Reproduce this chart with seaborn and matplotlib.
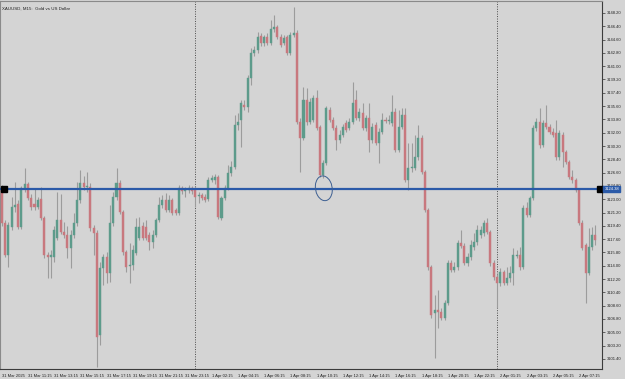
import numpy as np
import pandas as pd
import matplotlib
matplotlib.use("Agg")
import matplotlib.pyplot as plt
from matplotlib.patches import Ellipse
import seaborn as sns

# ---------------- data (XAUUSD, M15) ----------------
x_labels = ["31 Mar 2025", "31 Mar 11:15", "31 Mar 13:15", "31 Mar 15:15", "31 Mar 17:15",
            "31 Mar 19:15", "31 Mar 21:15", "31 Mar 23:15", "1 Apr 02:15", "1 Apr 04:15",
            "1 Apr 06:15", "1 Apr 08:15", "1 Apr 10:15", "1 Apr 12:15", "1 Apr 14:15",
            "1 Apr 16:15", "1 Apr 18:15", "1 Apr 20:15", "1 Apr 22:15", "2 Apr 01:15",
            "2 Apr 03:15", "2 Apr 05:15", "2 Apr 07:15"]
x_label_bars = [0, 8, 16, 24, 32, 40, 48, 56, 64, 72, 80, 88, 96, 104, 112, 120, 128,
                136, 144, 152, 160, 168, 176]
day_separators = [58.9, 150.9]

y_ticks = [3101.40, 3103.20, 3105.00, 3106.80, 3108.60, 3110.40, 3112.20, 3114.00, 3115.80,
           3117.60, 3119.40, 3121.20, 3123.00, 3124.80, 3126.60, 3128.40, 3130.20, 3132.00,
           3133.80, 3135.60, 3137.40, 3139.20, 3141.00, 3142.80, 3144.60, 3146.40, 3148.20]

level_price = 3124.38
title = "XAUUSD, M15:  Gold vs US Dollar"

open_ = [
    3124.25, 3119.79, 3115.46, 3119.25, 3121.95, 3122.36, 3119.25, 3124.52, 3125.06, 3123.17,
    3122.36, 3121.95, 3123.04, 3120.46, 3115.46, 3115.19, 3115.19, 3117.76, 3120.19, 3118.57,
    3118.16, 3116.41, 3118.16, 3119.79, 3122.90, 3125.20, 3124.66, 3124.66, 3119.11, 3118.44,
    3104.63, 3113.70, 3115.19, 3113.02, 3119.79, 3123.31, 3125.20, 3121.28, 3115.86, 3113.97,
    3114.11, 3115.73, 3117.76, 3119.38, 3119.25, 3118.16, 3117.22, 3118.16, 3120.19, 3122.22,
    3122.90, 3121.55, 3122.90, 3121.55, 3121.14, 3124.52, 3124.12, 3124.25, 3124.52, 3124.39,
    3123.44, 3123.58, 3123.31, 3123.04, 3125.61, 3125.61, 3126.01, 3120.46, 3123.17, 3124.52,
    3126.55, 3127.36, 3133.05, 3133.72, 3135.75, 3135.48, 3139.41, 3142.79, 3143.19, 3145.09,
    3144.14, 3144.95, 3144.14, 3146.04, 3146.31, 3144.95, 3144.14, 3144.95, 3142.79, 3145.22,
    3145.49, 3133.45, 3131.29, 3136.43, 3133.45, 3133.72, 3136.70, 3132.78, 3126.28, 3127.91,
    3135.08, 3133.72, 3132.64, 3131.02, 3131.69, 3133.32, 3132.64, 3133.45, 3136.43, 3133.99,
    3134.67, 3132.64, 3133.99, 3131.02, 3133.05, 3130.61, 3132.10, 3133.72, 3133.59, 3133.32,
    3134.81, 3129.67, 3132.78, 3134.40, 3125.61, 3127.23, 3127.23, 3128.72, 3131.29, 3126.69,
    3121.55, 3113.83, 3107.61, 3108.02, 3107.75, 3106.93, 3108.96, 3114.38, 3113.43, 3113.83,
    3117.08, 3116.68, 3114.38, 3115.19, 3116.54, 3117.22, 3118.16, 3118.44, 3119.79, 3118.57,
    3114.38, 3112.48, 3111.67, 3113.16, 3111.67, 3112.35, 3113.02, 3115.32, 3115.46, 3113.83,
    3121.82, 3120.87, 3123.17, 3132.64, 3133.45, 3130.34, 3133.32, 3132.78, 3132.10, 3131.97,
    3128.72, 3131.69, 3129.39, 3128.04, 3126.01, 3125.61, 3124.25, 3119.79, 3116.81, 3113.02,
    3116.54, 3118.16]

high = [
    3124.93, 3120.19, 3119.92, 3123.31, 3125.34, 3122.90, 3124.79, 3127.23, 3125.34, 3123.71,
    3124.52, 3123.31, 3124.66, 3120.74, 3115.86, 3116.13, 3119.38, 3123.98, 3123.71, 3119.92,
    3119.38, 3118.84, 3121.14, 3125.34, 3126.96, 3126.15, 3126.69, 3125.20, 3119.52, 3118.84,
    3114.51, 3115.59, 3115.86, 3122.22, 3123.98, 3127.23, 3125.61, 3121.55, 3116.13, 3117.08,
    3116.81, 3120.46, 3120.60, 3119.92, 3120.19, 3118.57, 3118.84, 3120.46, 3123.31, 3123.58,
    3123.85, 3123.58, 3123.17, 3121.82, 3124.93, 3124.79, 3124.66, 3124.93, 3124.79, 3124.79,
    3123.98, 3123.85, 3123.71, 3126.01, 3126.28, 3126.42, 3126.28, 3123.44, 3124.93, 3127.63,
    3128.18, 3134.40, 3134.67, 3136.43, 3136.43, 3139.81, 3143.47, 3143.74, 3145.63, 3145.49,
    3145.22, 3145.49, 3147.25, 3147.93, 3146.58, 3145.36, 3145.22, 3145.22, 3145.63, 3149.01,
    3145.90, 3133.99, 3138.19, 3138.05, 3136.70, 3137.11, 3137.78, 3133.05, 3128.31, 3135.62,
    3135.48, 3134.13, 3133.05, 3132.37, 3133.18, 3133.72, 3133.99, 3138.87, 3137.78, 3135.35,
    3136.02, 3134.40, 3136.02, 3133.32, 3133.45, 3132.64, 3134.67, 3134.13, 3134.40, 3137.11,
    3135.35, 3135.08, 3135.35, 3135.35, 3130.61, 3130.61, 3131.69, 3133.05, 3131.69, 3126.96,
    3121.82, 3114.11, 3110.05, 3110.72, 3108.29, 3109.37, 3114.78, 3114.78, 3114.51, 3117.49,
    3118.84, 3117.08, 3115.73, 3117.49, 3118.44, 3119.52, 3119.38, 3120.19, 3120.46, 3118.84,
    3114.78, 3112.89, 3113.70, 3113.43, 3113.83, 3113.97, 3116.41, 3116.13, 3116.54, 3122.22,
    3122.63, 3123.44, 3133.05, 3133.99, 3135.35, 3133.72, 3135.75, 3133.18, 3132.64, 3133.72,
    3132.37, 3132.10, 3129.67, 3128.31, 3126.96, 3125.88, 3124.52, 3120.19, 3117.08, 3119.11,
    3119.25, 3119.52]

low = [
    3119.38, 3115.19, 3113.83, 3118.84, 3121.28, 3118.98, 3118.98, 3123.98, 3122.90, 3121.55,
    3121.55, 3121.68, 3120.19, 3115.05, 3112.35, 3112.35, 3114.51, 3117.49, 3118.30, 3117.76,
    3115.05, 3113.70, 3117.76, 3119.38, 3122.49, 3124.25, 3123.98, 3118.71, 3115.46, 3100.30,
    3103.28, 3111.40, 3111.67, 3111.81, 3119.38, 3122.90, 3121.01, 3115.46, 3113.16, 3111.67,
    3113.43, 3115.46, 3117.49, 3117.49, 3117.49, 3116.13, 3116.41, 3117.89, 3119.92, 3121.82,
    3121.28, 3121.28, 3120.87, 3120.87, 3120.87, 3123.71, 3123.31, 3123.85, 3123.71, 3121.95,
    3122.49, 3122.90, 3122.63, 3122.76, 3125.34, 3125.06, 3120.33, 3120.19, 3122.90, 3124.25,
    3126.15, 3127.09, 3132.37, 3130.07, 3135.08, 3134.81, 3138.46, 3142.38, 3142.79, 3143.74,
    3143.74, 3143.87, 3143.87, 3145.63, 3144.68, 3143.60, 3143.87, 3142.52, 3142.52, 3144.95,
    3133.18, 3126.69, 3131.02, 3133.05, 3133.18, 3133.45, 3132.37, 3126.01, 3125.88, 3127.63,
    3133.45, 3132.37, 3129.67, 3130.61, 3131.42, 3132.10, 3132.37, 3133.18, 3133.72, 3133.59,
    3132.37, 3132.24, 3129.39, 3130.61, 3130.34, 3127.91, 3131.83, 3133.32, 3133.18, 3132.91,
    3129.39, 3129.39, 3132.51, 3125.34, 3124.25, 3126.69, 3126.96, 3128.31, 3126.42, 3121.28,
    3113.43, 3106.93, 3101.52, 3105.58, 3106.66, 3106.66, 3108.69, 3113.16, 3113.16, 3113.43,
    3116.41, 3114.11, 3113.97, 3114.78, 3116.13, 3116.81, 3117.76, 3118.03, 3118.30, 3113.97,
    3112.08, 3108.29, 3111.26, 3111.40, 3111.40, 3111.81, 3111.40, 3115.05, 3113.43, 3113.56,
    3120.60, 3120.60, 3122.90, 3132.24, 3129.94, 3130.07, 3132.51, 3131.83, 3131.42, 3128.31,
    3128.31, 3127.36, 3127.77, 3125.74, 3125.20, 3123.98, 3119.52, 3116.13, 3108.96, 3112.75,
    3116.13, 3116.81]

close = [
    3119.79, 3115.46, 3119.52, 3121.95, 3122.22, 3119.25, 3124.52, 3125.06, 3123.17, 3121.95,
    3121.95, 3122.90, 3120.46, 3115.46, 3115.19, 3115.46, 3118.84, 3120.19, 3118.57, 3118.16,
    3116.41, 3118.16, 3119.79, 3122.90, 3125.20, 3124.66, 3124.79, 3119.11, 3118.44, 3104.36,
    3113.70, 3115.19, 3113.02, 3119.79, 3123.31, 3125.20, 3121.28, 3115.86, 3113.83, 3114.11,
    3116.13, 3119.25, 3119.25, 3117.76, 3117.76, 3117.22, 3118.16, 3120.19, 3122.22, 3122.90,
    3121.55, 3122.90, 3121.14, 3121.14, 3124.52, 3124.12, 3124.25, 3124.52, 3124.12, 3123.31,
    3123.58, 3123.17, 3122.90, 3125.61, 3125.88, 3126.01, 3120.60, 3123.17, 3124.52, 3126.55,
    3127.36, 3133.05, 3133.45, 3136.02, 3135.48, 3139.41, 3142.79, 3143.19, 3144.95, 3144.14,
    3144.95, 3144.14, 3146.04, 3146.31, 3144.95, 3143.87, 3144.82, 3142.79, 3145.22, 3145.49,
    3133.45, 3131.29, 3136.43, 3133.45, 3136.16, 3136.70, 3132.64, 3126.28, 3127.91, 3135.35,
    3133.72, 3132.64, 3131.02, 3131.69, 3132.78, 3132.37, 3133.45, 3136.02, 3133.99, 3134.81,
    3132.64, 3133.99, 3131.02, 3132.78, 3130.61, 3132.10, 3133.72, 3133.59, 3133.72, 3134.81,
    3129.67, 3132.78, 3134.40, 3125.61, 3127.23, 3127.36, 3128.72, 3131.29, 3126.69, 3121.55,
    3113.83, 3107.34, 3108.02, 3107.75, 3106.93, 3108.96, 3114.38, 3113.43, 3113.83, 3117.08,
    3116.68, 3114.38, 3115.19, 3116.81, 3117.22, 3118.84, 3118.84, 3119.79, 3118.57, 3114.38,
    3112.48, 3111.67, 3113.16, 3111.67, 3112.35, 3113.02, 3115.46, 3115.46, 3113.83, 3121.82,
    3120.87, 3123.17, 3132.64, 3133.45, 3130.34, 3133.32, 3132.78, 3132.10, 3131.69, 3128.72,
    3131.97, 3129.39, 3128.04, 3126.01, 3125.61, 3124.25, 3119.79, 3116.41, 3113.02, 3116.54,
    3118.16, 3117.49]

# ---------------- styling ----------------
BG = "#d4d4d4"
UP = "#5d9b8b"
DOWN = "#c8787e"
WICK = "#9c9c9c"
AXC = "#3c3c3c"
LINE = "#2b5aa8"
FS = 3.0

sns.set_theme(style="white", rc={"axes.facecolor": BG, "figure.facecolor": BG,
                                 "savefig.facecolor": BG})
plt.rcParams["font.family"] = ["Liberation Sans", "DejaVu Sans"]

df = pd.DataFrame({"o": open_, "h": high, "l": low, "c": close})
df["i"] = np.arange(len(df))
df["up"] = df["c"] >= df["o"]

fig = plt.figure(figsize=(6.25, 3.79), dpi=100)
ax = fig.add_axes([0.0, 10 / 379, 602 / 625, 368 / 379])
ax.set_facecolor(BG)

# wicks
ax.vlines(df["i"], df["l"], df["h"], color=WICK, lw=0.8, zorder=2)
# bodies
body_bottom = np.minimum(df["o"], df["c"])
body_height = np.maximum(np.abs(df["c"] - df["o"]), 0.12)
colors = np.where(df["up"], UP, DOWN)
ax.bar(df["i"], body_height, bottom=body_bottom, width=0.62, color=colors,
       edgecolor=colors, linewidth=0.3, zorder=3)

# day separators
for xs in day_separators:
    ax.axvline(xs, color="#4a4a4a", lw=0.7, ls=(0, (1, 1.5)), zorder=1)

# horizontal level
ax.axhline(level_price, color=LINE, lw=1.6, zorder=4)
ax.plot([0.75, 182.45], [level_price, level_price], ls="none", marker="s",
        markersize=4.3, color="black", zorder=5, clip_on=False)

# hand-drawn circle near the touch point
ax.add_patch(Ellipse((98.2, level_price + 0.1), 5.2, 3.3, angle=-8, fill=False,
                     edgecolor="#3d5f92", lw=0.7, zorder=6))

ax.set_xlim(-0.52, 183.0)
ax.set_ylim(3100.03, 3149.82)

# y axis on the right
ax.yaxis.tick_right()
ax.set_yticks(y_ticks)
ax.set_yticklabels([f"{v:.2f}" for v in y_ticks])
ax.tick_params(axis="y", direction="out", length=2.5, width=0.5, colors="#333333",
               labelcolor="#222222", pad=1.2, labelsize=FS)

# x axis labels
ax.set_xticks(x_label_bars)
ax.set_xticklabels(x_labels)
ax.tick_params(axis="x", direction="out", length=2.5, width=0.5, colors="#333333",
               labelcolor="#222222", pad=0.8, labelsize=FS)
for lab in ax.get_xticklabels():
    lab.set_horizontalalignment("left")

for s in ["top", "left"]:
    ax.spines[s].set_color("#8a8a8a")
    ax.spines[s].set_linewidth(0.8)
for s in ["right", "bottom"]:
    ax.spines[s].set_color(AXC)
    ax.spines[s].set_linewidth(0.8)

ax.text(0.004, 0.985, title, transform=ax.transAxes, fontsize=FS + 0.2, color="#222222",
        va="top", ha="left")

# highlighted price label
ax.text(1.004, level_price, f"{level_price:.2f}", transform=ax.get_yaxis_transform(),
        fontsize=FS, color="white", va="center", ha="left", zorder=10, clip_on=False,
        bbox=dict(boxstyle="square,pad=0.3", facecolor=LINE, edgecolor=LINE))

fig.savefig("out.png", dpi=100)
